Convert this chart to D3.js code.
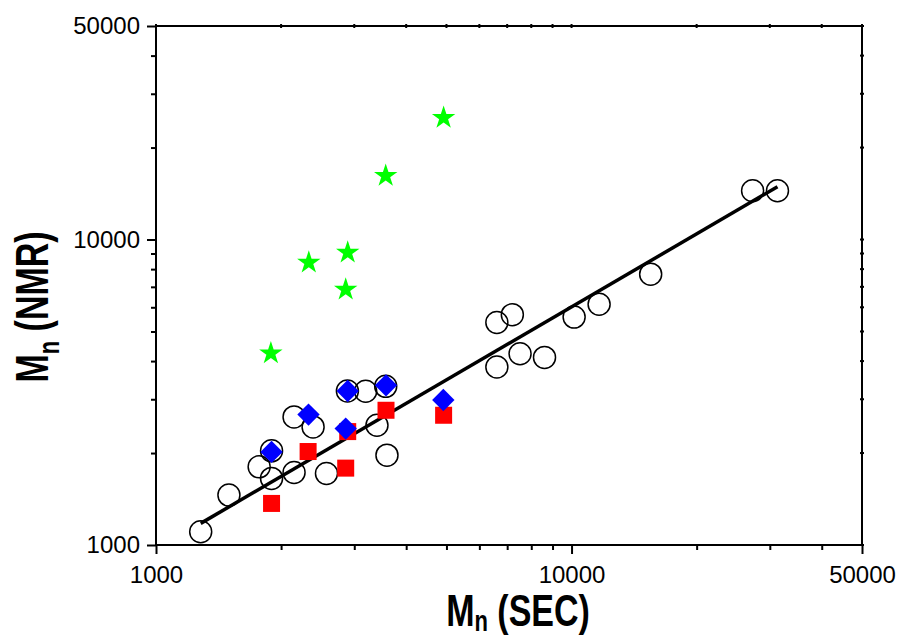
<!DOCTYPE html>
<html lang="en">
<head>
<meta charset="utf-8" />
<title>Mn NMR vs SEC</title>
<style>
  body { margin: 0; padding: 0; background: #fff; font-family: Arial, "Liberation Sans", sans-serif; }
  .tick text { font-family: Arial, "Liberation Sans", sans-serif; font-size: 24px; fill: #000; }
  .title { font-family: Arial, "Liberation Sans", sans-serif; font-weight: bold; font-size: 34px; }
</style>
</head>
<body>
<div id="chart"></div>
<script src="https://d3js.org/d3.v7.min.js"></script>
<script>
// open circles
const circX = [1281, 1498, 1771, 1897, 1897, 2149, 2149, 2388, 2572, 2888, 3196, 3402, 3571, 3596,
               6611, 6611, 7203, 7518, 8609, 10144, 11650, 15502, 27270, 31300];
const circY = [1105, 1457, 1802, 1652, 2033, 1728, 2626, 2435, 1715, 3192, 3185, 2466, 3307, 1968,
               3827, 5352, 5675, 4226, 4113, 5573, 6142, 7703, 14450, 14450];
// red squares
const sqX = [1897, 2323, 2861, 2893, 3577, 4922];
const sqY = [1368, 2023, 1785, 2351, 2761, 2659];
// blue diamonds
const diaX = [1897, 2328, 2861, 2893, 3577, 4914];
const diaY = [2017, 2673, 2405, 3192, 3332, 2984];
// green stars
const starX = [1890, 2332, 2893, 2861, 3571, 4922];
const starY = [4240, 8404, 9060, 6860, 16180, 25010];
// fitted line
const fitX = [1281, 31300];
const fitY = [1177, 14890];

const tickVals = [1000, 10000, 50000];
const minorVals = [2000, 3000, 4000, 5000, 6000, 7000, 8000, 9000, 20000, 30000, 40000];

const W = 910, H = 641;
const pL = 156, pR = 862, pT = 26, pB = 545;

const svg = d3.select('#chart').append('svg')
    .attr('width', W)
    .attr('height', H);

const x = d3.scaleLog().domain([1000, 50000]).range([pL, pR]);
const y = d3.scaleLog().domain([1000, 50000]).range([pB, pT]);

// minor ticks (outward) on bottom and left
svg.append('g')
    .attr('transform', `translate(0,${pB})`)
    .call(d3.axisBottom(x).tickValues(minorVals).tickSize(5).tickFormat(''))
    .call(g => g.select('.domain').remove())
    .call(g => g.selectAll('line').attr('stroke-width', 2));
svg.append('g')
    .attr('transform', `translate(${pL},0)`)
    .call(d3.axisLeft(y).tickValues(minorVals).tickSize(5).tickFormat(''))
    .call(g => g.select('.domain').remove())
    .call(g => g.selectAll('line').attr('stroke-width', 2));

// major ticks with labels
svg.append('g')
    .attr('transform', `translate(0,${pB})`)
    .call(d3.axisBottom(x).tickValues(tickVals).tickSize(9).tickPadding(12).tickFormat(d3.format('d')))
    .call(g => g.select('.domain').remove())
    .call(g => g.selectAll('line').attr('stroke-width', 2));
svg.append('g')
    .attr('transform', `translate(${pL},0)`)
    .call(d3.axisLeft(y).tickValues(tickVals).tickSize(9).tickPadding(7).tickFormat(d3.format('d')))
    .call(g => g.select('.domain').remove())
    .call(g => g.selectAll('line').attr('stroke-width', 2));

// small ticks on top and right
const allVals = tickVals.concat(minorVals);
svg.append('g').selectAll('line').data(allVals).enter().append('line')
    .attr('x1', d => x(d)).attr('x2', d => x(d))
    .attr('y1', pT - 2).attr('y2', pT + 2)
    .attr('stroke', '#000').attr('stroke-width', 2);
svg.append('g').selectAll('line').data(allVals).enter().append('line')
    .attr('y1', d => y(d)).attr('y2', d => y(d))
    .attr('x1', pR - 2).attr('x2', pR + 2)
    .attr('stroke', '#000').attr('stroke-width', 2);

// frame
svg.append('rect')
    .attr('x', pL).attr('y', pT)
    .attr('width', pR - pL).attr('height', pB - pT)
    .attr('fill', 'none').attr('stroke', '#000').attr('stroke-width', 2);

// open circles
svg.append('g').selectAll('circle')
    .data(circX.map((v, i) => [v, circY[i]]))
    .enter().append('circle')
    .attr('cx', d => x(d[0])).attr('cy', d => y(d[1]))
    .attr('r', 11)
    .attr('fill', 'none').attr('stroke', '#000').attr('stroke-width', 1.5);

// fit line
svg.append('line')
    .attr('x1', x(fitX[0])).attr('y1', y(fitY[0]))
    .attr('x2', x(fitX[1])).attr('y2', y(fitY[1]))
    .attr('stroke', '#000').attr('stroke-width', 3.5);

// red squares
svg.append('g').selectAll('rect')
    .data(sqX.map((v, i) => [v, sqY[i]]))
    .enter().append('rect')
    .attr('x', d => x(d[0]) - 8.5).attr('y', d => y(d[1]) - 8.5)
    .attr('width', 17).attr('height', 17)
    .attr('fill', '#ff0000');

// blue diamonds
const diamond = d3.symbol().type(d3.symbolSquare).size(250);
svg.append('g').selectAll('path')
    .data(diaX.map((v, i) => [v, diaY[i]]))
    .enter().append('path')
    .attr('d', diamond)
    .attr('transform', d => `translate(${x(d[0])},${y(d[1])}) rotate(45)`)
    .attr('fill', '#0000ff');

// green stars
const star = d3.symbol().type(d3.symbolStar).size(170);
svg.append('g').selectAll('path')
    .data(starX.map((v, i) => [v, starY[i]]))
    .enter().append('path')
    .attr('d', star)
    .attr('transform', d => `translate(${x(d[0])},${y(d[1])})`)
    .attr('fill', '#00ff00');

// axis titles (the original font is tall and narrow)
const xt = svg.append('text').attr('class', 'title')
    .attr('transform', 'translate(518,626) scale(1,1.3)')
    .attr('text-anchor', 'middle');
xt.append('tspan').text('M');
xt.append('tspan').attr('dy', 4).attr('font-size', 22).text('n');
xt.append('tspan').attr('dy', -4).text(' (SEC)');

const yt = svg.append('text').attr('class', 'title')
    .attr('transform', 'translate(48,307) rotate(-90) scale(1,1.35)')
    .attr('text-anchor', 'middle');
yt.append('tspan').text('M');
yt.append('tspan').attr('dy', 8).attr('font-size', 22).text('n');
yt.append('tspan').attr('dy', -8).text(' (NMR)');
</script>
</body>
</html>
